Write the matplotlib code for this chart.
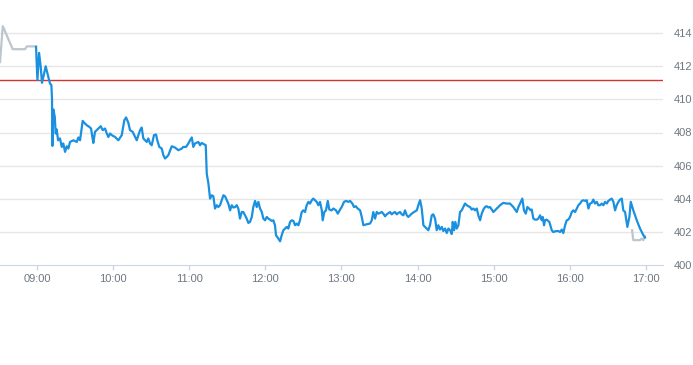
import matplotlib
matplotlib.use("Agg")
import matplotlib.pyplot as plt

# minutes after 09:00 and price
pre_minutes = [-29.2, -27.0, -19.2, -9.5, -8.1, -0.8]
pre_values = [412.25, 414.42, 413.03, 413.03, 413.2, 413.2]

session_minutes = [
    -0.8, 0.3, 1.6, 2.9, 3.9, 5.0, 6.8, 8.9, 10.2, 11.3, 11.8, 12.1, 12.9, 14.0, 14.7,
    15.5, 16.6, 18.1, 19.5, 20.7, 22.1, 23.4, 24.7, 26.0, 28.6, 31.3, 32.6, 33.9, 36.0,
    37.8, 39.2, 41.2, 42.6, 43.6, 44.4, 45.7, 48.3, 50.2, 51.8, 53.6, 55.0, 56.2, 57.6,
    58.9, 61.5, 64.1, 66.8, 68.8, 70.2, 72.0, 73.3, 75.4, 77.3, 78.6, 81.2, 82.5, 83.8,
    86.5, 87.7, 89.1, 90.4, 92.2, 93.8, 94.8, 96.4, 98.3, 99.6, 100.9, 102.3, 103.5,
    106.2, 108.8, 111.4, 114.1, 115.3, 117.5, 119.3, 120.6, 122.0, 123.2,
    124.6, 127.2, 128.5, 129.8, 131.7, 133.0, 133.8, 135.1, 136.4, 137.7, 139.0, 140.3,
    141.7, 142.9, 144.3, 145.6, 146.9, 148.2, 149.6, 150.8, 152.2, 153.5, 154.8, 156.1,
    157.4, 158.7, 160.0, 161.4, 162.6, 164.0, 165.3, 166.6, 167.9, 169.3, 170.5, 171.9,
    173.2, 174.5, 175.8, 177.2, 178.4, 179.8, 181.1, 182.4, 183.7, 185.1, 186.3, 187.6,
    188.4, 190.2, 191.6, 192.9, 194.2, 195.5, 196.9, 198.1, 199.5, 200.8, 202.1, 203.4,
    204.7, 206.0, 207.3, 208.7, 209.9, 211.3, 212.6, 213.9, 215.2, 216.6, 217.8, 219.2,
    220.5, 221.8, 223.1, 224.5, 225.2, 226.5, 227.8, 229.2, 230.4, 232.3, 233.6, 235.7,
    237.1, 238.9, 240.2, 242.0, 243.6, 245.4, 246.8, 248.6, 249.9, 251.3, 252.8,
    254.7, 256.0, 257.3, 259.9, 262.5, 263.9, 265.1, 266.5, 267.8, 269.1, 270.4, 271.8,
    273.0, 274.4, 275.7, 278.3, 279.6, 280.9, 282.2, 283.6, 284.8, 286.2, 287.5, 288.8,
    290.1, 291.5, 292.7, 294.1, 295.4, 297.2, 299.4, 300.6, 302.0, 303.3, 304.6, 305.9,
    307.2, 308.5, 309.8, 311.2, 312.4, 313.8, 315.1, 316.4, 317.7, 319.1, 320.3, 321.7,
    323.0, 324.3, 325.6, 327.0, 327.7, 328.8, 329.8, 330.9, 332.2, 333.5, 334.8, 336.1,
    337.4, 338.8, 340.0, 341.4, 342.7, 344.0, 345.3, 346.7, 347.9, 349.3, 350.6, 351.9,
    353.2, 354.5, 355.8, 357.1, 358.5, 359.7, 361.1, 362.4, 363.7, 365.0, 367.6, 370.3,
    372.9, 375.5, 378.2, 379.5, 380.8, 382.6, 383.9, 385.3, 386.6, 387.9, 389.2, 390.0,
    391.3, 392.6, 394.0, 395.2, 396.6, 397.9, 398.7, 399.7, 400.5, 401.8, 403.9, 405.8,
    407.0, 409.2, 411.0, 412.3, 413.7, 414.9, 416.3, 417.6, 418.9, 420.2, 421.6, 422.8,
    424.2, 425.5, 426.8, 428.1, 429.5, 430.7, 432.0, 433.4, 434.7, 436.0, 437.3, 438.6,
    439.9, 441.3, 442.5, 443.9, 445.2, 446.5, 447.8, 449.2, 450.4, 451.8, 453.1, 454.4,
    455.7, 457.0, 458.3, 459.6, 461.0, 462.2, 463.6, 465.4, 467.0, 468.1, 470.1, 472.8,
    475.4, 478.0, 479.3,
]
session_values = [
    413.17, 411.16, 412.81, 411.96, 411.0, 411.36, 412.0, 411.36, 410.96, 410.86, 410.05,
    407.19, 409.39, 408.94, 407.94, 408.18, 407.53, 407.64, 407.13, 407.34, 406.83,
    407.17, 407.03, 407.43, 407.53, 407.43, 407.70, 407.53, 408.70, 408.54, 408.44,
    408.34, 408.24, 407.73, 407.37, 408.04, 408.24, 408.38, 408.14, 408.24, 407.94,
    407.73, 407.94, 407.84, 407.73, 407.53, 407.84, 408.74, 408.91, 408.58, 408.14,
    408.04, 407.73, 407.53, 408.14, 408.30, 407.64, 407.43, 407.64, 407.34, 407.23,
    407.84, 407.88, 407.53, 407.13, 407.03, 406.63, 406.43, 406.53, 406.63, 407.17,
    407.09, 406.93, 407.03, 407.13, 407.13, 407.34, 407.53, 407.70, 407.13,
    407.34, 407.43, 407.23, 407.37, 407.29, 407.23, 405.52, 404.92, 404.01, 404.21,
    404.15, 403.41, 403.61, 403.50, 403.61, 403.91, 404.21, 404.15, 403.91, 403.71,
    403.30, 403.61, 403.47, 403.50, 403.61, 403.41, 402.80, 403.20, 403.20, 403.00,
    402.80, 402.54, 402.60, 402.90, 403.50, 403.87, 403.50, 403.81, 403.41, 403.20,
    402.80, 402.70, 402.90, 402.80, 402.74, 402.66, 402.70, 402.40, 401.80, 401.60,
    401.43, 401.80, 402.10, 402.20, 402.30, 402.20, 402.60, 402.70, 402.66, 402.40,
    402.50, 402.40, 402.70, 403.20, 403.30, 403.20, 403.61, 403.81, 403.71, 403.91,
    404.01, 403.91, 403.81, 403.61, 403.81, 403.30, 402.70, 403.20, 403.30, 403.87,
    403.35, 403.30, 403.41, 403.30, 403.10, 403.35, 403.50, 403.81, 403.87, 403.81,
    403.87, 403.71, 403.50, 403.55, 403.41,
    403.30, 402.90, 402.40, 402.46, 402.50, 402.70, 403.20, 402.80, 403.20, 403.10,
    403.14, 403.20, 403.10, 402.94, 403.06, 403.20, 403.06, 403.14, 403.20, 403.06,
    403.14, 403.20, 403.06, 403.00, 403.30, 403.00, 402.90, 403.00, 403.10, 403.20,
    403.30, 403.61, 403.91, 403.41, 402.40, 402.30, 402.20, 402.10, 402.40, 403.00,
    403.06, 402.80, 402.10, 402.40, 402.14, 402.30, 402.05, 402.20, 401.93, 402.20,
    402.10, 401.87, 402.60, 402.10, 402.60, 402.20, 402.40, 403.20, 403.30, 403.50,
    403.71, 403.61, 403.55, 403.50, 403.35, 403.41, 403.30, 403.41, 403.00, 402.70,
    403.10, 403.35, 403.50, 403.55, 403.47, 403.50, 403.35, 403.20, 403.30, 403.41,
    403.50, 403.61, 403.75, 403.71,
    403.71, 403.50, 403.20, 403.50, 403.71, 404.01, 403.30, 403.10, 403.50, 403.41,
    403.30, 403.35, 402.80, 402.74, 402.74, 402.80, 403.00, 402.70, 402.90, 402.40,
    402.70, 402.74, 402.60, 402.10, 401.99, 402.05, 402.05, 401.99, 402.14, 401.93,
    402.40, 402.70, 402.74, 402.90, 403.20, 403.30, 403.20, 403.41, 403.61, 403.71,
    403.87, 403.91, 403.87, 403.91, 403.41, 403.71, 403.75, 403.95, 403.71, 403.81,
    403.61, 403.61, 403.71, 403.61, 403.81, 403.71, 403.87, 403.95, 404.01, 403.81,
    403.30, 403.61, 403.81, 403.95, 404.01, 403.30, 403.20, 402.30, 402.90, 403.81,
    403.30, 402.70, 402.20, 401.80, 401.66,
]

post_minutes = [469.1, 470.1, 475.4, 476.7, 478.0, 479.3]
post_values = [402.10, 401.50, 401.50, 401.60, 401.50, 401.75]

reference_level = 411.15

hour_ticks = [0, 60, 120, 180, 240, 300, 360, 420, 480]
hour_labels = ["09:00", "10:00", "11:00", "12:00", "13:00", "14:00", "15:00", "16:00", "17:00"]
price_ticks = [400, 402, 404, 406, 408, 410, 412, 414]
price_labels = ["400", "402", "404", "406", "408", "410", "412", "414"]

plt.rcParams["font.family"] = ["Liberation Sans", "DejaVu Sans"]

fig = plt.figure(figsize=(6.93, 3.65), dpi=100)
ax = fig.add_axes([0, 100 / 365, 663 / 693, 265 / 365])

for v in price_ticks[1:]:
    ax.axhline(v, color="#e6e6e6", linewidth=1, zorder=1)

ax.plot(pre_minutes, pre_values, color="#bcc6cf", linewidth=1.6, zorder=2)
ax.plot(post_minutes, post_values, color="#bcc6cf", linewidth=1.6, zorder=2)
ax.axhline(reference_level, color="#d6352f", linewidth=1, zorder=3)
ax.plot(session_minutes, session_values, color="#1a90e0", linewidth=1.6,
        solid_joinstyle="round", zorder=4)

ax.set_xlim(-29.2, 493.5)
ax.set_ylim(400, 416)

ax.set_xticks(hour_ticks)
ax.set_xticklabels(hour_labels)
ax.yaxis.tick_right()
ax.set_yticks(price_ticks)
ax.set_yticklabels(price_labels, ha="left")

ax.tick_params(axis="x", colors="#ccd6eb", length=3.5, width=1, pad=3, labelsize=8,
               labelcolor="#6f7780")
ax.tick_params(axis="y", length=0, pad=8, labelsize=8, labelcolor="#6f7780")

for side in ["top", "left", "right"]:
    ax.spines[side].set_visible(False)
ax.spines["bottom"].set_color("#ccd6eb")
ax.set_facecolor("none")

fig.savefig("out.png", dpi=100)
